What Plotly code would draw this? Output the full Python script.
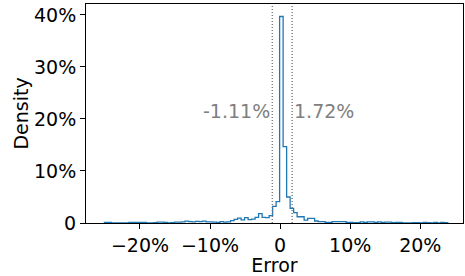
import plotly.graph_objects as go

# Histogram data (percent per bin), bins of width 0.5% starting at -25.07%
bin_start = -25.07
bin_width = 0.5
density = [
    0.1, 0.1, 0, 0, 0, 0, 0, 0.1, 0.1, 0.1,
    0.1, 0.1, 0, 0, 0.05, 0.15, 0.15, 0.1, 0, 0.05,
    0.15, 0.15, 0.2, 0.35, 0.25, 0.2, 0.3, 0.25, 0.35, 0.2,
    0.2, 0.15, 0.1, 0.25, 0.15, 0.2, 0.45, 0.7, 0.95, 0.6,
    1.05, 0.65, 0.75, 1.1, 1.8, 1.1, 1.05, 1.4, 3.2, 4.1,
    39.7, 14.7, 5.0, 2.8, 2.0, 1.2, 1.2, 0.57, 0.9, 0.9,
    0.38, 0.25, 0.25, 0.12, 0.12, 0.25, 0.25, 0.25, 0.25, 0.12,
    0.1, 0.05, 0.05, 0.2, 0.1, 0.2, 0.2, 0.1, 0.2, 0.1,
    0.15, 0.15, 0.05, 0.1, 0.1, 0, 0, 0, 0.08, 0.08,
    0, 0.1, 0.05, 0, 0.1, 0, 0.1, 0.05,
]
lower_q = -1.11
upper_q = 1.72
lower_label = "-1.11%"
upper_label = "1.72%"
label_level = 21.6

x_tickvals = [-20, -10, 0, 10, 20]
x_ticktext = ["−20%", "−10%", "0", "10%", "20%"]
y_tickvals = [0, 10, 20, 30, 40]
y_ticktext = ["0", "10%", "20%", "30%", "40%"]

edges = [bin_start + i * bin_width for i in range(len(density) + 1)]
xs = [edges[0]] + edges[:-1] + [edges[-1]]
ys = [0] + density + [0]

FONT = "DejaVu Sans"
fig = go.Figure()
fig.add_trace(go.Scatter(
    x=xs, y=ys, mode="lines", line=dict(color="#1f77b4", width=1.3, shape="hv"),
    hoverinfo="skip", showlegend=False,
))

for q in (lower_q, upper_q):
    fig.add_shape(type="line", xref="x", yref="paper", x0=q, x1=q, y0=0, y1=1,
                  line=dict(color="#808080", width=1.5, dash="1px,2px"))

fig.add_annotation(x=lower_q, y=label_level, text=lower_label, showarrow=False,
                   xanchor="right", yanchor="middle", xshift=0,
                   font=dict(family=FONT, size=19, color="#808080"))
fig.add_annotation(x=upper_q, y=label_level, text=upper_label, showarrow=False,
                   xanchor="left", yanchor="middle", xshift=0,
                   font=dict(family=FONT, size=19, color="#808080"))

axis_common = dict(showline=True, linecolor="black", linewidth=1, mirror=True,
                   ticks="outside", ticklen=5, tickcolor="black", tickwidth=1,
                   showgrid=False, zeroline=False,
                   tickfont=dict(family=FONT, size=19, color="black"))
fig.update_xaxes(range=[-27.7, 26.1], tickvals=x_tickvals, ticktext=x_ticktext,
                 title=dict(text="Error", font=dict(family=FONT, size=19, color="black"), standoff=4),
                 **axis_common)
fig.update_yaxes(range=[0, 42.1], tickvals=y_tickvals, ticktext=y_ticktext,
                 title=dict(text="Density", font=dict(family=FONT, size=19, color="black"), standoff=0),
                 **axis_common)
fig.update_layout(width=465, height=276, margin=dict(l=86, r=2, t=4, b=53),
                  plot_bgcolor="white", paper_bgcolor="white")
fig.write_html("out.html", config={"displayModeBar": False, "staticPlot": True},
               post_script="document.body.style.margin='0';document.body.style.padding='0';")
